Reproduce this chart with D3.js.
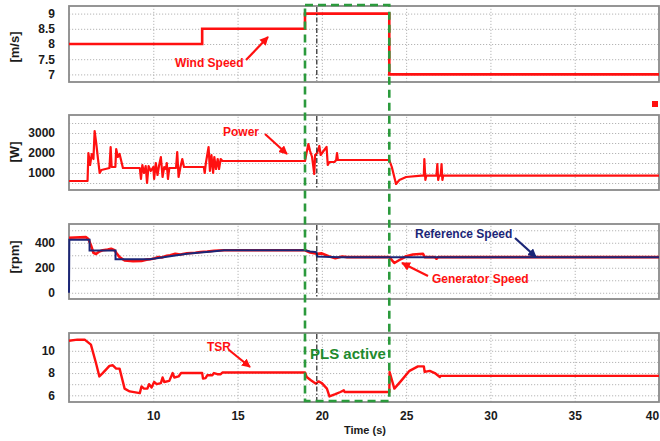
<!DOCTYPE html>
<html>
<head>
<meta charset="utf-8">
<script src="https://cdn.jsdelivr.net/npm/d3@7"></script>
<style>
  html, body { margin: 0; padding: 0; background: #fff; }
  text { font-family: "Liberation Sans", Arial, sans-serif; font-weight: bold; }
</style>
</head>
<body>
<script>
// time axis
const xTicks = [10, 15, 20, 25, 30, 35, 40];
const xGrid = [10, 15, 20, 25, 30, 35];

// wind speed [m/s] (step)
const windTime = [5, 12.9, 19, 24, 40];
const windSpeed = [8, 8.5, 9, 7, 7];
const windTicks = [7, 7.5, 8, 8.5, 9];

// power [W]
const powerData = [
  [5,600],[6.1,600],[6.15,2000],[6.25,1400],[6.35,1950],[6.45,1700],[6.52,3100],[6.62,2450],
  [6.72,1700],[6.82,1000],[6.92,1150],[7.4,1250],[7.47,2300],[7.53,1300],[7.75,1300],[7.8,2200],
  [7.9,1800],[8.0,1950],[8.1,1600],[8.2,1250],[9.2,1250],[9.27,700],[9.35,1400],[9.45,1000],
  [9.55,1350],[9.63,500],[9.72,1350],[9.85,1100],[10.0,1300],[10.05,700],[10.15,1500],[10.25,900],
  [10.35,1400],[10.45,1800],[10.55,800],[10.65,1300],[10.75,1200],[10.8,1500],[10.87,700],[10.95,1250],
  [11.35,1250],[11.42,2050],[11.5,800],[11.6,1250],[11.72,1700],[11.82,1300],[13.0,1300],[13.05,1000],
  [13.12,1500],[13.28,2300],[13.36,1100],[13.45,1900],[13.55,1000],[13.62,1800],[13.72,1200],[13.82,1700],
  [13.9,1200],[14.0,1700],[14.1,1600],[19.0,1600],[19.08,1950],[19.2,2450],[19.3,2100],[19.42,1800],
  [19.55,950],[19.6,1900],[19.72,2000],[19.85,2350],[19.93,1900],[20.1,2100],[20.28,2300],[20.35,1400],
  [20.45,1550],[20.75,1550],[20.85,1650],[20.9,2000],[20.95,1650],[24.0,1650],[24.15,1300],[24.4,450],
  [24.6,650],[25.0,800],[25.9,870],[26.05,870],[26.08,1700],[26.14,650],[26.2,870],[26.8,870],
  [26.85,1450],[26.9,650],[26.95,870],[27.05,870],[27.1,1450],[27.15,650],[27.2,870],[40,870]
];
const powerTicks = [1000, 2000, 3000];
const powerGrid = [500, 1000, 1500, 2000, 2500, 3000, 3500];

// speeds [rpm]
const refSpeed = [
  [5,0],[5.02,425],[6.22,425],[6.22,338],[7.76,338],[7.76,268],[9.8,268],[10.0,272],[10.3,278],
  [10.6,284],[11.0,292],[11.5,302],[12.0,312],[12.8,322],[13.5,330],[14.2,340],[19.0,340],
  [19.3,330],[19.68,325],[19.72,290],[21.0,285],[40,285]
];
const genSpeed = [
  [5,440],[6.0,445],[6.15,430],[6.3,380],[6.45,320],[6.6,310],[6.8,330],[7.0,340],[7.3,345],
  [7.5,352],[7.7,340],[7.8,320],[8.0,285],[8.3,258],[8.8,252],[9.3,255],[9.6,265],[9.9,270],
  [10.1,276],[10.3,286],[10.5,282],[10.8,296],[11.0,300],[11.3,311],[11.6,306],[12.0,316],
  [12.5,320],[12.8,326],[13.2,330],[13.6,336],[14.2,340],[19.0,340],[19.3,322],[19.7,312],
  [20.0,315],[20.4,292],[20.8,276],[21.2,290],[21.5,285],[24.0,285],[24.3,238],[24.7,270],
  [25.0,292],[25.4,306],[26.0,312],[26.1,285],[26.7,285],[26.8,272],[26.9,285],[40,285]
];
const rpmTicks = [0, 200, 400];
const rpmGrid = [0, 100, 200, 300, 400, 500];

// tip speed ratio
const tsrData = [
  [5,10.9],[5.5,11.0],[5.93,11.0],[6.3,10.55],[6.6,8.9],[6.8,7.7],[7.0,8.0],[7.4,8.65],[7.6,8.7],
  [7.8,8.4],[8.0,8.4],[8.3,6.6],[8.6,6.35],[9.2,6.2],[9.3,6.8],[9.45,6.6],[9.65,6.6],[9.75,7.0],
  [9.9,6.7],[10.05,7.2],[10.2,7.0],[10.45,7.1],[10.55,7.6],[10.65,7.2],[10.95,7.3],[11.15,8.0],
  [11.25,7.6],[11.5,7.7],[11.65,8.0],[12.9,8.0],[12.95,7.5],[13.1,7.55],[13.2,7.8],[13.5,7.8],
  [13.6,8.0],[13.8,7.9],[14.0,7.9],[14.1,8.05],[19.0,8.05],[19.1,7.65],[19.35,7.35],[19.65,7.05],
  [19.8,7.25],[20.0,7.1],[20.3,6.6],[20.45,5.9],[20.8,6.1],[21.1,6.3],[21.3,6.45],[21.35,6.3],
  [24.0,6.3],[24.02,8.1],[24.3,6.6],[24.7,7.3],[25.2,8.2],[25.7,8.6],[26.05,8.6],[26.1,8.1],
  [26.4,8.2],[26.7,8.0],[27.0,7.65],[27.05,7.75],[40,7.75]
];
const tsrTicks = [6, 8, 10];
const tsrGrid = [6, 7, 8, 9, 10, 11];

// PLS window and marker
const plsStart = 19, plsEnd = 24, markerTime = 19.7;

const W = 660, H = 441;
const RED = '#ff1010', NAVY = '#1b2677', GREEN = '#2b9a3c';

const svg = d3.select('body').append('svg')
  .attr('width', W).attr('height', H);

const x = d3.scaleLinear().domain([5, 40]).range([69, 659]);

let panelSetting = [
  {top: 6, bottom: 82, domain: [6.75, 9.25], ticks: windTicks, grid: windTicks, fmt: d3.format('')},
  {top: 115, bottom: 190, domain: [150, 3900], ticks: powerTicks, grid: powerGrid, fmt: d3.format('d')},
  {top: 224, bottom: 299, domain: [-50, 550], ticks: rpmTicks, grid: rpmGrid, fmt: d3.format('d')},
  {top: 333, bottom: 402, domain: [5.4, 11.6], ticks: tsrTicks, grid: tsrGrid, fmt: d3.format('d')}
];

let ys = panelSetting.map((p) => {
  let y = d3.scaleLinear().domain(p.domain).range([p.bottom, p.top]);
  let g = svg.append('g');

  // horizontal grid
  g.append('g').attr('transform', 'translate(' + x.range()[0] + ',0)')
    .call(d3.axisLeft(y).tickValues(p.grid).tickSize(-(x.range()[1] - x.range()[0])).tickFormat(''))
    .call((a) => a.select('.domain').remove())
    .selectAll('line').attr('stroke', '#b5b5b5').attr('stroke-dasharray', '1.2,1.8');

  // vertical grid
  g.append('g').attr('transform', 'translate(0,' + p.bottom + ')')
    .call(d3.axisBottom(x).tickValues(xGrid).tickSize(-(p.bottom - p.top)).tickFormat(''))
    .call((a) => a.select('.domain').remove())
    .selectAll('line').attr('stroke', '#b5b5b5').attr('stroke-dasharray', '1.2,1.8');

  // tick labels
  g.append('g').attr('transform', 'translate(' + x.range()[0] + ',0)')
    .call(d3.axisLeft(y).tickValues(p.ticks).tickSize(0).tickPadding(14).tickFormat(p.fmt))
    .call((a) => a.select('.domain').remove())
    .selectAll('text').attr('font-size', 12).attr('fill', '#1a1a1a')
    .style('font-family', '"Liberation Sans", Arial, sans-serif').style('font-weight', 'bold');

  // frame
  g.append('rect')
    .attr('x', x.range()[0]).attr('y', p.top)
    .attr('width', x.range()[1] - x.range()[0]).attr('height', p.bottom - p.top)
    .attr('fill', 'none').attr('stroke', '#8a8a8a').attr('stroke-width', 1.8);

  p.g = g;
  return y;
});

// time axis labels
svg.append('g').attr('transform', 'translate(0,' + panelSetting[3].bottom + ')')
  .call(d3.axisBottom(x).tickValues(xTicks).tickSize(0).tickPadding(9))
  .call((a) => a.select('.domain').remove())
  .selectAll('text').attr('font-size', 12).attr('fill', '#1a1a1a')
  .style('font-family', '"Liberation Sans", Arial, sans-serif').style('font-weight', 'bold')
  .attr('x', (d) => d === 40 ? -7 : 0);

svg.append('text').attr('x', 365).attr('y', 434).attr('text-anchor', 'middle')
  .attr('font-size', 11).attr('fill', '#1a1a1a').text('Time (s)');

// unit labels
[['[m/s]', 47], ['[W]', 152], ['[rpm]', 257]].forEach((u) => {
  svg.append('text').attr('transform', 'translate(19,' + u[1] + ') rotate(-90)')
    .attr('text-anchor', 'middle').attr('font-size', 13).attr('fill', '#1a1a1a').text(u[0]);
});

// lines
const line = (y) => d3.line().x((d) => x(d[0])).y((d) => y(d[1]));

svg.append('path')
  .datum(windTime.map((t, i) => [t, windSpeed[i]]))
  .attr('d', line(ys[0]).curve(d3.curveStepAfter))
  .attr('fill', 'none').attr('stroke', RED).attr('stroke-width', 2.6);

svg.append('path').datum(powerData).attr('d', line(ys[1]))
  .attr('fill', 'none').attr('stroke', RED).attr('stroke-width', 2.2).attr('stroke-linejoin', 'round');

svg.append('path').datum(genSpeed).attr('d', line(ys[2]))
  .attr('fill', 'none').attr('stroke', RED).attr('stroke-width', 2.6).attr('stroke-linejoin', 'round');
svg.append('path').datum(refSpeed).attr('d', line(ys[2]))
  .attr('fill', 'none').attr('stroke', NAVY).attr('stroke-width', 2);

svg.append('path').datum(tsrData).attr('d', line(ys[3]))
  .attr('fill', 'none').attr('stroke', RED).attr('stroke-width', 2.4).attr('stroke-linejoin', 'round');

// dash-dot marker in each panel
panelSetting.forEach((p) => {
  svg.append('line')
    .attr('x1', x(markerTime)).attr('x2', x(markerTime))
    .attr('y1', p.top + 1).attr('y2', p.bottom - 1)
    .attr('stroke', '#222').attr('stroke-width', 1.2).attr('stroke-dasharray', '5,2,1.5,2');
});

// PLS active window
svg.append('rect')
  .attr('x', x(plsStart)).attr('y', 5)
  .attr('width', x(plsEnd) - x(plsStart)).attr('height', 396)
  .attr('fill', 'none').attr('stroke', GREEN).attr('stroke-width', 2.6)
  .attr('stroke-dasharray', '8,5');

svg.append('text').attr('x', 310).attr('y', 359).attr('font-size', 15)
  .attr('fill', '#1e8a2e').text('PLS active');

// small red square at right
svg.append('rect').attr('x', 652).attr('y', 101).attr('width', 6).attr('height', 6).attr('fill', RED);

// annotations
const defs = svg.append('defs');
[['arrRed', RED], ['arrNavy', NAVY]].forEach((m) => {
  defs.append('marker').attr('id', m[0])
    .attr('viewBox', '0 0 10 10').attr('refX', 9).attr('refY', 5)
    .attr('markerWidth', 4).attr('markerHeight', 4).attr('orient', 'auto')
    .append('path').attr('d', 'M0,0 L10,5 L0,10 z').attr('fill', m[1]);
});

let notes = [
  {text: 'Wind Speed', x: 175, y: 67, color: RED, m: 'arrRed', a: [246, 60, 268, 37]},
  {text: 'Power', x: 223, y: 136, color: RED, m: 'arrRed', a: [265, 134, 287, 154]},
  {text: 'Reference Speed', x: 415, y: 238, color: NAVY, m: 'arrNavy', a: [515, 238, 536, 257]},
  {text: 'Generator Speed', x: 432, y: 283, color: RED, m: 'arrRed', a: [428, 276, 402, 263]},
  {text: 'TSR', x: 207, y: 351, color: RED, m: 'arrRed', a: [229, 350, 250, 367]}
];
notes.forEach((n) => {
  svg.append('text').attr('x', n.x).attr('y', n.y).attr('font-size', 12)
    .attr('fill', n.color).text(n.text);
  svg.append('line')
    .attr('x1', n.a[0]).attr('y1', n.a[1]).attr('x2', n.a[2]).attr('y2', n.a[3])
    .attr('stroke', n.color).attr('stroke-width', 2.2).attr('marker-end', 'url(#' + n.m + ')');
});
</script>
</body>
</html>
